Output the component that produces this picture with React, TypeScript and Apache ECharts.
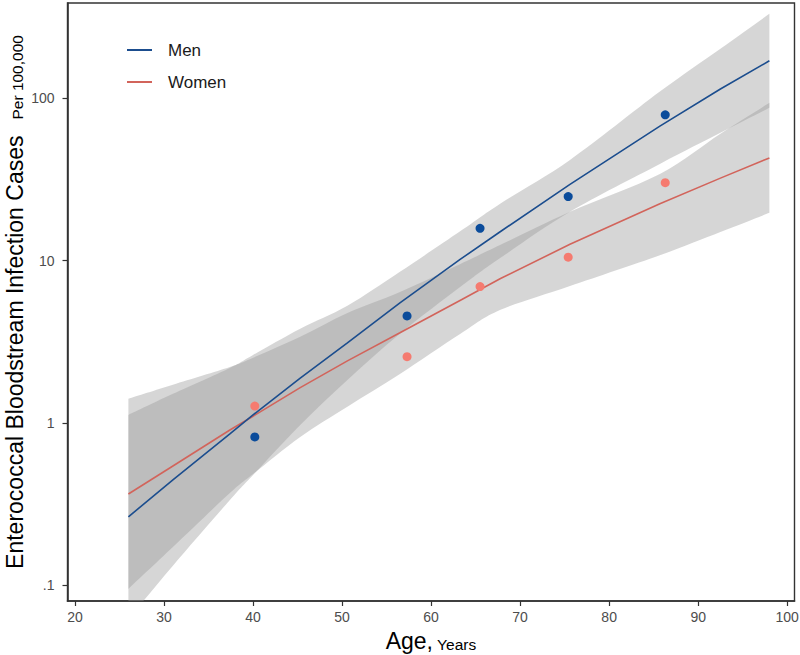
import React, { useEffect, useRef } from "react";
import * as echarts from "echarts";

// ---- data ----
const xTicks = [20, 30, 40, 50, 60, 70, 80, 90, 100];
const yTicks = [0.1, 1, 10, 100];

const pointAges = [40.2, 57.3, 65.5, 75.4, 86.3];
const menRates = [0.82, 4.56, 15.8, 24.8, 79.0];
const womenRates = [1.27, 2.56, 6.92, 10.5, 30.2];

const fitAges = [26, 31, 37.4, 40, 45.3, 50.6, 56.5, 63.3, 67.8, 75.6, 85.7, 92.5, 98];
const menFit = [0.264, 0.446, 0.855, 1.12, 1.89, 3.11, 5.49, 10.2, 15.1, 29.5, 67.3, 114, 170];
const womenFit = [0.365, 0.543, 0.905, 1.1, 1.65, 2.41, 3.59, 5.7, 7.75, 12.6, 22.4, 32.2, 42.9];

const menUpper = [1.12, 1.51, 2.18, 2.62, 3.8, 5.26, 8.52, 15.2, 22.5, 41.7, 110, 202, 331];
const menLower = [0.062, 0.132, 0.335, 0.478, 0.972, 1.84, 3.54, 6.89, 10.4, 20.0, 39.4, 61.2, 87.3];
const womenUpper = [1.41, 1.72, 2.21, 2.52, 3.39, 4.76, 6.41, 9.54, 12.5, 20.0, 34.2, 60.4, 93.7];
const womenLower = [0.095, 0.172, 0.37, 0.485, 0.82, 1.26, 2.0, 3.54, 4.97, 6.98, 10.8, 15.0, 19.7];

const FONT = "'Liberation Sans', Arial, Helvetica, sans-serif";
const MEN_LINE = "#1b4d8e";
const MEN_PT = "#0b4c9b";
const WOMEN_LINE = "#d2645b";
const WOMEN_PT = "#f57b70";
const BAND_FILL = "rgba(153,153,153,0.4)";

// smooth curve through screen points (rendering only)
function curveThrough(ctx: any, pts: number[][]) {
  for (let i = 0; i < pts.length - 1; i++) {
    const p0 = pts[i - 1] || pts[i];
    const p1 = pts[i];
    const p2 = pts[i + 1];
    const p3 = pts[i + 2] || p2;
    const c1x = p1[0] + (p2[0] - p0[0]) / 6;
    const c1y = p1[1] + (p2[1] - p0[1]) / 6;
    const c2x = p2[0] - (p3[0] - p1[0]) / 6;
    const c2y = p2[1] - (p3[1] - p1[1]) / 6;
    ctx.bezierCurveTo(c1x, c1y, c2x, c2y, p2[0], p2[1]);
  }
}

const BandShape = (echarts.graphic as any).extendShape({
  shape: { upper: [] as number[][], lower: [] as number[][] },
  buildPath(ctx: any, shape: any) {
    const up: number[][] = shape.upper;
    const lo: number[][] = shape.lower.slice().reverse();
    if (!up.length || !lo.length) return;
    ctx.moveTo(up[0][0], up[0][1]);
    curveThrough(ctx, up);
    ctx.lineTo(lo[0][0], lo[0][1]);
    curveThrough(ctx, lo);
    ctx.closePath();
  },
});
(echarts.graphic as any).registerShape("ciband", BandShape);

function bandSeries(name: string, upper: number[], lower: number[]) {
  return {
    type: "custom",
    name,
    silent: true,
    z: 1,
    data: [[60, 1]],
    encode: { x: 0, y: 1 },
    renderItem: (params: any, api: any) => {
      const up = fitAges.map((a, i) => api.coord([a, upper[i]]));
      const lo = fitAges.map((a, i) => api.coord([a, lower[i]]));
      const cs = params.coordSys;
      return {
        type: "ciband",
        shape: { upper: up, lower: lo },
        style: { fill: BAND_FILL },
        clipPath: { type: "rect", shape: { x: cs.x, y: cs.y, width: cs.width, height: cs.height } },
      };
    },
  };
}

export default function App() {
  const ref = useRef<HTMLDivElement>(null);
  useEffect(() => {
    if (!ref.current) return;
    const chart = echarts.init(ref.current, undefined, { renderer: "svg" });
    const option: any = {
      animation: false,
      backgroundColor: "#ffffff",
      grid: {
        left: 67.5,
        right: 5.5,
        top: 3,
        bottom: 54,
        containLabel: false,
        outerBoundsMode: "none",
        show: true,
        borderColor: "#333333",
        borderWidth: 1.4,
        backgroundColor: "transparent",
      },
      xAxis: {
        type: "value",
        min: 19.16,
        max: 100.82,
        splitLine: { show: false },
        axisLine: { show: true, onZero: false, lineStyle: { color: "#333333", width: 1.6 } },
        axisTick: { show: true, length: 5, lineStyle: { color: "#333333", width: 1.2 }, customValues: xTicks },
        axisLabel: { customValues: xTicks, color: "#4d4d4d", fontSize: 14, margin: 9, fontFamily: FONT },
        name: "{a|Age,}{b| Years}",
        nameLocation: "middle",
        nameGap: 25,
        nameTextStyle: {
          rich: {
            a: { fontSize: 23, color: "#000", fontFamily: FONT, verticalAlign: "bottom", lineHeight: 26 },
            b: { fontSize: 15.5, color: "#000", fontFamily: FONT, verticalAlign: "bottom", lineHeight: 20 },
          },
        },
      },
      yAxis: {
        type: "log",
        logBase: 10,
        min: 0.08,
        max: 386,
        splitLine: { show: false },
        axisLine: { show: true, onZero: false, lineStyle: { color: "#333333", width: 1.6 } },
        axisTick: { show: true, length: 5, lineStyle: { color: "#333333", width: 1.2 }, customValues: yTicks },
        axisLabel: {
          customValues: yTicks,
          color: "#4d4d4d",
          fontSize: 14,
          margin: 13,
          fontFamily: FONT,
          formatter: (v: number) => (v < 0.5 ? ".1" : String(Math.round(v))),
        },
        name: "{a|Enterococcal Bloodstream Infection Cases}{b|Per 100,000}",
        nameLocation: "middle",
        nameMoveOverlap: false,
        nameGap: 41,
        nameTextStyle: {
          rich: {
            a: { fontSize: 23, color: "#000", fontFamily: FONT, verticalAlign: "bottom", lineHeight: 24 },
            b: { fontSize: 15.5, color: "#000", fontFamily: FONT, verticalAlign: "bottom", lineHeight: 18, padding: [0, 0, 1, 16] },
          },
        },
      },
      legend: {
        data: [{ name: "Men" }, { name: "Women" }],
        orient: "vertical",
        left: 122,
        top: 35,
        icon: "rect",
        itemWidth: 25,
        itemHeight: 2,
        itemGap: 12,
        textStyle: { fontSize: 17, color: "#1a1a1a", fontFamily: FONT, padding: [0, 0, 0, 11], lineHeight: 20 },
      },
      series: [
        bandSeries("Women band", womenUpper, womenLower),
        bandSeries("Men band", menUpper, menLower),
        {
          type: "line",
          name: "Women",
          color: WOMEN_LINE,
          data: fitAges.map((a, i) => [a, womenFit[i]]),
          showSymbol: false,
          symbol: "none",
          lineStyle: { color: WOMEN_LINE, width: 1.6 },
          itemStyle: { color: WOMEN_LINE },
          z: 2,
        },
        {
          type: "line",
          name: "Men",
          color: MEN_LINE,
          data: fitAges.map((a, i) => [a, menFit[i]]),
          showSymbol: false,
          symbol: "none",
          lineStyle: { color: MEN_LINE, width: 1.6 },
          itemStyle: { color: MEN_LINE },
          z: 2,
        },
        {
          type: "scatter",
          name: "Men data",
          data: pointAges.map((a, i) => [a, menRates[i]]),
          symbolSize: 9,
          itemStyle: { color: MEN_PT, opacity: 1 },
          z: 3,
        },
        {
          type: "scatter",
          name: "Women data",
          data: pointAges.map((a, i) => [a, womenRates[i]]),
          symbolSize: 9,
          itemStyle: { color: WOMEN_PT, opacity: 1 },
          z: 3,
        },
      ],
    };
    chart.setOption(option);
    return () => chart.dispose();
  }, []);
  return (
    <div
      ref={ref}
      style={{ position: "fixed", left: 0, top: 0, width: 800, height: 655, background: "#fff" }}
    />
  );
}
